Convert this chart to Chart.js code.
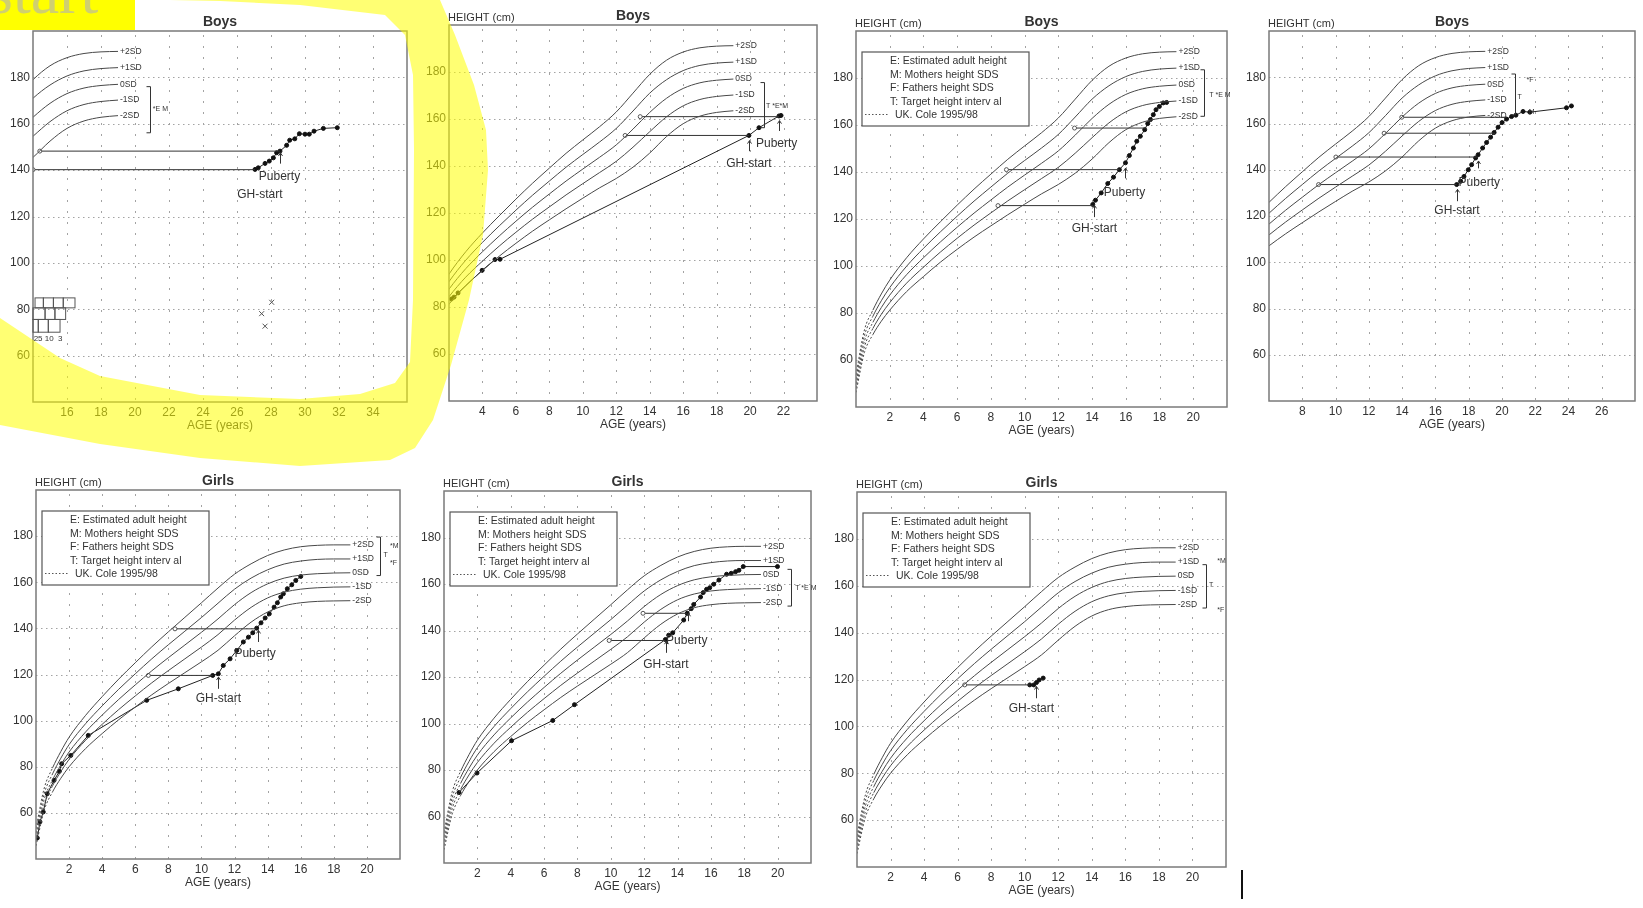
<!DOCTYPE html>
<html>
<head>
<meta charset="utf-8">
<script src="https://cdn.jsdelivr.net/npm/chart.js@4.4.0/dist/chart.umd.min.js"></script>
<style>
  html, body { margin: 0; padding: 0; background: #fff; width: 1643px; height: 908px; overflow: hidden; }
  body { position: relative; }
  canvas { position: absolute; }
  #hilite { position: absolute; left: 0; top: 0; width: 1643px; height: 908px; pointer-events: none; }
  #tag { position: absolute; left: 0; top: 0; width: 135px; height: 30px; background: #ffff00; overflow: hidden; }
  #tag span { position: absolute; left: -12px; top: -45px; font: 64px "Liberation Serif", serif; color: #cfcf70; white-space: nowrap; }
  #cursor { position: absolute; left: 1241px; top: 870px; width: 2px; height: 29px; background: #111; }
</style>
</head>
<body>
<svg id="hilite" viewBox="0 0 1643 908">
  <polygon fill="#ffff00" fill-opacity="0.55" points="170,0 440,0 455,35 474,85 486,130 488,170 483,235 469,300 451,365 433,420 415,448 390,460 300,466 200,458 100,444 0,425 0,318 30,338 60,358 100,376 200,395 300,399 360,394 395,383 410,362 413,300 414,150 413,75 405,35 385,15 300,5 220,1"/>
</svg>
<div id="tag"><span>start</span></div>
<div id="cursor"></div>
<script>
// reference curves (UK, Cole 1995/98)
const refAges = [0, 0.5, 1, 1.5, 2, 3, 4, 5, 6, 7, 8, 9, 10, 11, 12, 13, 14, 15, 16, 17, 18, 19];
const sdNames = ["+2SD", "+1SD", "0SD", "-1SD", "-2SD"];

const boysPlus2 = [53.8, 72.8, 81.2, 88.1, 94.0, 103.5, 111.5, 118.8, 125.9, 132.7, 139.1, 145.4, 151.1, 156.7, 163.0, 171.0, 179.0, 185.0, 188.5, 190.3, 191.0, 191.2];
const boysPlus1 = [51.9, 70.4, 78.6, 85.2, 90.8, 99.9, 107.5, 114.5, 121.2, 127.6, 133.6, 139.5, 144.9, 150.2, 156.0, 163.4, 171.0, 176.7, 180.6, 182.8, 183.8, 184.2];
const boysMean = [50.0, 68.0, 76.0, 82.3, 87.6, 96.3, 103.5, 110.2, 116.5, 122.5, 128.1, 133.6, 138.7, 143.7, 149.0, 155.7, 162.8, 168.8, 173.0, 175.4, 176.5, 177.0];
const boysMinus1 = [48.1, 65.6, 73.4, 79.4, 84.4, 92.7, 99.5, 105.9, 111.8, 117.4, 122.6, 127.7, 132.5, 137.2, 142.0, 148.0, 154.6, 160.9, 165.6, 168.3, 169.6, 170.2];
const boysMinus2 = [46.2, 63.2, 70.8, 76.5, 81.2, 89.1, 95.5, 101.6, 107.1, 112.3, 117.1, 121.8, 126.3, 130.7, 134.7, 139.5, 145.5, 152.5, 158.0, 161.2, 162.8, 163.5];

const girlsPlus2 = [53.3, 70.8, 79.5, 86.6, 92.8, 102.3, 110.4, 118.0, 125.1, 132.0, 138.5, 144.8, 151.1, 157.5, 163.5, 168.0, 171.6, 174.0, 175.4, 176.0, 176.2, 176.2];
const girlsPlus1 = [51.4, 68.4, 76.9, 83.7, 89.6, 98.7, 106.4, 113.6, 120.3, 126.8, 132.9, 138.8, 144.7, 150.9, 157.0, 161.8, 165.4, 167.9, 169.2, 169.9, 170.1, 170.1];
const girlsMean = [49.5, 66.0, 74.3, 80.8, 86.4, 95.1, 102.4, 109.2, 115.5, 121.6, 127.3, 132.8, 138.3, 144.1, 150.3, 155.5, 159.3, 161.8, 163.1, 163.7, 164.0, 164.1];
const girlsMinus1 = [47.6, 63.6, 71.7, 77.9, 83.2, 91.5, 98.4, 104.8, 110.7, 116.4, 121.7, 126.8, 131.9, 137.3, 143.6, 149.1, 153.2, 155.7, 157.0, 157.6, 157.9, 158.0];
const girlsMinus2 = [45.7, 61.2, 69.1, 75.0, 80.0, 87.9, 94.4, 100.4, 105.9, 111.2, 116.1, 120.8, 125.5, 130.5, 136.8, 142.7, 147.1, 149.8, 151.1, 151.7, 151.9, 152.0];

const boysCurves = [boysPlus2, boysPlus1, boysMean, boysMinus1, boysMinus2];
const girlsCurves = [girlsPlus2, girlsPlus1, girlsMean, girlsMinus1, girlsMinus2];

// panel 1 - boys
const p1Growth = [[27.06, 140.3], [27.25, 141.0], [27.65, 142.9], [27.9, 143.9], [28.14, 145.3], [28.33, 147.5], [28.53, 148.2], [28.92, 150.7], [29.1, 152.9], [29.4, 153.5], [29.67, 155.7], [30.0, 155.5], [30.25, 155.5], [30.53, 156.8], [31.08, 158.0], [31.9, 158.3]];
const p1Bone = [[[14.0, 140.2], [27.06, 140.2]], [[14.4, 148.2], [28.53, 148.2]]];
const p1Arrows = [[28.53, 142.8, 147.4]];
const p1Notes = [[28.5, 137.0, "Puberty"], [27.35, 129.5, "GH-start"]];
const p1Bracket = [20.9, 176.0, 156.1];
const p1Small = [[21.05, 166.5, "*E M"]];
const p1Crosses = [[28.04, 83.0], [27.45, 78.1], [27.65, 72.7]];
const p1Boxes = [[84.9, 80.6, [14.12, 14.61, 15.2, 15.78, 16.47]], [80.6, 75.6, [14.0, 14.71, 15.29, 15.92]], [75.6, 70.1, [14.0, 14.31, 14.9, 15.59]]];
const p1BoxLabels = [[14.3, "25"], [14.95, "10"], [15.6, "3"]];

// panel 2 - boys
const p2Growth = [[2.14, 83.4], [2.3, 84.2], [2.54, 86.0], [3.98, 95.6], [4.75, 100.2], [5.05, 100.3], [19.93, 153.0], [20.53, 156.3], [21.73, 161.3], [21.85, 161.5]];
const p2Bone = [[[12.53, 153.0], [19.93, 153.0]], [[13.43, 161.0], [21.73, 161.0]]];
const p2Arrows = [[19.95, 146.3, 150.8], [21.7, 154.9, 159.3]];
const p2Notes = [[19.93, 141.0, "GH-start"], [21.59, 149.5, "Puberty"]];
const p2Bracket = [20.83, 175.5, 156.3];
const p2Small = [[20.95, 165.3, "T *E*M"]];

// panel 3 - boys
const p3Growth = [[14.04, 126.2], [14.2, 128.0], [14.54, 131.1], [14.93, 135.1], [15.27, 137.8], [15.62, 141.0], [15.98, 143.9], [16.21, 147.0], [16.45, 150.2], [16.65, 153.1], [16.86, 155.2], [17.12, 158.0], [17.3, 160.6], [17.46, 162.3], [17.63, 164.4], [17.79, 166.5], [17.99, 167.9], [18.22, 169.4], [18.42, 169.6]];
const p3Bone = [[[8.42, 125.7], [14.08, 125.7]], [[8.92, 141.0], [15.62, 141.0]], [[12.96, 158.7], [17.2, 158.7]]];
const p3Arrows = [[14.14, 120.8, 125.8], [15.98, 137.3, 141.6]];
const p3Notes = [[15.92, 131.4, "Puberty"], [14.14, 115.8, "GH-start"]];
const p3Bracket = [20.65, 183.5, 163.7];
const p3Small = [[20.95, 172.9, "T *E M"]];

// panel 4 - boys
const p4Growth = [[17.28, 133.6], [17.52, 135.0], [17.72, 137.1], [17.98, 140.0], [18.18, 142.2], [18.42, 145.1], [18.57, 146.5], [18.84, 149.4], [19.08, 151.8], [19.32, 154.1], [19.53, 156.1], [19.77, 158.4], [20.01, 160.4], [20.28, 161.9], [20.58, 163.0], [20.84, 163.6], [21.27, 165.2], [21.68, 164.9], [23.88, 166.8], [24.18, 167.6]];
const p4Bone = [[[8.98, 133.6], [17.28, 133.6]], [[10.02, 145.5], [18.57, 145.5]], [[12.92, 155.8], [19.6, 155.8]], [[13.98, 162.7], [20.28, 162.7]]];
const p4Arrows = [[17.28, 126.4, 131.5], [18.57, 140.6, 143.8]];
const p4Notes = [[18.64, 134.5, "Puberty"], [17.3, 122.5, "GH-start"]];
const p4Bracket = [20.78, 181.4, 163.7];
const p4Small = [[21.48, 178.8, "*F"], [20.94, 171.6, "T"], [21.62, 165.0, "M"]];

// panel 5 - girls
const p5Growth = [[0.08, 49.1], [0.24, 56.1], [0.44, 60.4], [0.68, 68.3], [1.09, 74.1], [1.41, 78.0], [1.55, 81.3], [2.1, 84.9], [3.16, 93.6], [6.69, 108.8], [8.6, 113.8], [10.68, 119.6], [11.02, 120.3], [11.32, 123.9], [11.73, 126.8], [12.13, 130.4], [12.53, 134.1], [12.84, 136.2], [13.1, 138.1], [13.34, 140.1], [13.6, 142.4], [13.85, 144.5], [14.1, 146.3], [14.39, 149.2], [14.59, 151.1], [14.79, 153.6], [14.95, 155.0], [15.19, 157.2], [15.46, 158.9], [15.7, 160.8], [16.0, 162.5]];
const p5Bone = [[[6.79, 119.6], [10.68, 119.6]], [[8.4, 139.8], [13.34, 139.8]]];
const p5Arrows = [[11.02, 113.8, 118.9], [13.4, 134.1, 139.1]];
const p5Notes = [[11.02, 109.5, "GH-start"], [13.24, 129.0, "Puberty"]];
const p5Bracket = [20.8, 179.6, 162.9];
const p5Small = [[21.4, 175.7, "*M"], [21.0, 171.6, "T"], [21.4, 168.4, "*F"]];

// panel 6 - girls
const p6Growth = [[0.9, 70.3], [1.98, 78.7], [4.05, 92.6], [6.52, 101.3], [7.82, 108.1], [13.27, 136.1], [13.47, 138.0], [13.71, 139.0], [14.37, 144.5], [14.58, 147.4], [14.82, 149.4], [14.97, 151.2], [15.38, 154.4], [15.54, 156.3], [15.74, 157.7], [15.93, 158.4], [16.17, 159.9], [16.48, 161.7], [16.94, 164.2], [17.22, 164.6], [17.48, 165.3], [17.68, 165.9], [17.94, 167.5], [19.99, 167.5]];
const p6Bone = [[[9.9, 135.7], [13.27, 135.7]], [[11.93, 147.4], [14.58, 147.4]]];
const p6Arrows = [[13.3, 130.4, 135.4], [14.6, 144.0, 147.4]];
const p6Notes = [[13.3, 125.4, "GH-start"], [14.55, 135.7, "Puberty"]];
const p6Bracket = [20.83, 166.3, 150.5];
const p6Small = [[21.05, 158.4, "T *E M"]];

// panel 7 - girls
const p7Growth = [[10.3, 117.7], [10.54, 117.7], [10.7, 118.7], [10.86, 119.8], [11.1, 120.6]];
const p7Bone = [[[6.42, 117.7], [10.3, 117.7]]];
const p7Arrows = [[10.7, 112.0, 117.0]];
const p7Notes = [[10.4, 107.4, "GH-start"]];
const p7Bracket = [20.78, 169.0, 150.5];
const p7Small = [[21.48, 170.5, "*M"], [20.98, 160.5, "T"], [21.48, 149.8, "*F"]];

const legendLines = ["E: Estimated adult height", "M: Mothers height SDS", "F: Fathers height SDS", "T: Target height interv al"];
const legendRef = "UK. Cole 1995/98";

// plot boxes (left, top, right, bottom) in page pixels
const panels = [
  { box: [33, 31, 407, 402], xMin: 14, xMax: 36, title: "Boys", curves: boysCurves, growth: p1Growth, bone: p1Bone, arrows: p1Arrows, notes: p1Notes, bracket: p1Bracket, small: p1Small, legend: false, crosses: p1Crosses, boxes: p1Boxes },
  { box: [449, 25, 817, 401], xMin: 2, xMax: 24, title: "Boys", curves: boysCurves, growth: p2Growth, bone: p2Bone, arrows: p2Arrows, notes: p2Notes, bracket: p2Bracket, small: p2Small, legend: false },
  { box: [856, 31, 1227, 407], xMin: 0, xMax: 22, title: "Boys", curves: boysCurves, growth: p3Growth, bone: p3Bone, arrows: p3Arrows, notes: p3Notes, bracket: p3Bracket, small: p3Small, legend: true },
  { box: [1269, 31, 1635, 401], xMin: 6, xMax: 28, title: "Boys", curves: boysCurves, growth: p4Growth, bone: p4Bone, arrows: p4Arrows, notes: p4Notes, bracket: p4Bracket, small: p4Small, legend: false },
  { box: [36, 490, 400, 859], xMin: 0, xMax: 22, title: "Girls", curves: girlsCurves, growth: p5Growth, bone: p5Bone, arrows: p5Arrows, notes: p5Notes, bracket: p5Bracket, small: p5Small, legend: true },
  { box: [444, 491, 811, 863], xMin: 0, xMax: 22, title: "Girls", curves: girlsCurves, growth: p6Growth, bone: p6Bone, arrows: p6Arrows, notes: p6Notes, bracket: p6Bracket, small: p6Small, legend: true },
  { box: [857, 492, 1226, 867], xMin: 0, xMax: 22, title: "Girls", curves: girlsCurves, growth: p7Growth, bone: p7Bone, arrows: p7Arrows, notes: p7Notes, bracket: p7Bracket, small: p7Small, legend: true }
];

Chart.defaults.font.family = '"Liberation Sans", Arial, sans-serif';
Chart.defaults.color = "#333";

const PAD_L = 45, PAD_T = 32, PAD_R = 8, PAD_B = 40;
const FONT = '"Liberation Sans", Arial, sans-serif';
const toPts = arr => arr.map(p => ({ x: p[0], y: p[1] }));

function makePlugin(p) {
  return {
    id: "panel",
    beforeDatasetsDraw(chart) {
      const { ctx, chartArea: a, scales: { x, y } } = chart;
      ctx.save();
      ctx.strokeStyle = "#a3a3a3";
      ctx.lineWidth = 1;
      ctx.setLineDash([1.5, 3.5]);
      for (let v = 60; v <= 180; v += 20) {
        const py = Math.round(y.getPixelForValue(v)) + 0.5;
        ctx.beginPath(); ctx.moveTo(a.left, py); ctx.lineTo(a.right, py); ctx.stroke();
      }
      ctx.setLineDash([2, 9]);
      for (let v = p.xMin + 2; v < p.xMax; v += 2) {
        const px = Math.round(x.getPixelForValue(v)) + 0.5;
        ctx.beginPath(); ctx.moveTo(px, a.top + 4); ctx.lineTo(px, a.bottom); ctx.stroke();
      }
      ctx.setLineDash([]);
      // legend box sits over the grid
      if (p.legend) {
        ctx.fillStyle = "#fff";
        ctx.fillRect(a.left + 6, a.top + 21, 167, 74);
      }
      ctx.restore();
    },
    afterDraw(chart) {
      const { ctx, chartArea: a, scales: { x, y } } = chart;
      const X = v => x.getPixelForValue(v), Y = v => y.getPixelForValue(v);
      ctx.save();
      // frame
      ctx.strokeStyle = "#7a7a7a";
      ctx.lineWidth = 1.5;
      ctx.strokeRect(a.left, a.top, a.right - a.left, a.bottom - a.top);

      ctx.fillStyle = "#333";
      ctx.textBaseline = "alphabetic";
      ctx.font = "bold 14px " + FONT;
      ctx.textAlign = "center";
      ctx.fillText(p.title, (a.left + a.right) / 2, a.top - 5);
      ctx.font = "11px " + FONT;
      ctx.textAlign = "left";
      ctx.fillText("HEIGHT (cm)", a.left - 1, a.top - 4);
      ctx.font = "12px " + FONT;
      ctx.textAlign = "center";
      ctx.textBaseline = "middle";
      ctx.fillText("AGE (years)", (a.left + a.right) / 2, a.bottom + 24);

      // SD labels at the end of the curves
      ctx.font = "8.5px " + FONT;
      ctx.textAlign = "left";
      p.curves.forEach((c, i) => ctx.fillText(sdNames[i], X(19.12), Y(c[c.length - 1])));

      // notes
      ctx.font = "12px " + FONT;
      ctx.textAlign = "center";
      p.notes.forEach(n => ctx.fillText(n[2], X(n[0]), Y(n[1])));

      // arrows
      ctx.strokeStyle = "#333";
      ctx.lineWidth = 1;
      p.arrows.forEach(ar => {
        const px = Math.round(X(ar[0])) + 0.5, y1 = Y(ar[1]), y2 = Y(ar[2]);
        ctx.beginPath(); ctx.moveTo(px, y1); ctx.lineTo(px, y2);
        ctx.moveTo(px - 2, y2 + 3); ctx.lineTo(px, y2); ctx.lineTo(px + 2, y2 + 3);
        ctx.stroke();
      });

      // target height bracket
      const [bx, bt, bb] = p.bracket;
      const pbx = Math.round(X(bx)) + 0.5;
      ctx.beginPath();
      ctx.moveTo(pbx - 4, Y(bt)); ctx.lineTo(pbx, Y(bt)); ctx.lineTo(pbx, Y(bb)); ctx.lineTo(pbx - 4, Y(bb));
      ctx.stroke();
      ctx.font = "7px " + FONT;
      ctx.textAlign = "left";
      p.small.forEach(s => ctx.fillText(s[2], X(s[0]), Y(s[1])));

      // legend box
      if (p.legend) {
        const lx = a.left + 6, ly = a.top + 21;
        ctx.strokeStyle = "#555";
        ctx.lineWidth = 1.2;
        ctx.strokeRect(lx, ly, 167, 74);
        ctx.font = "10.5px " + FONT;
        ctx.textBaseline = "alphabetic";
        legendLines.forEach((t, i) => ctx.fillText(t, a.left + 34, ly + 12 + i * 13.5));
        ctx.fillText(legendRef, a.left + 39, ly + 66);
        ctx.setLineDash([1.5, 2]);
        ctx.lineWidth = 1;
        ctx.beginPath(); ctx.moveTo(lx + 3, ly + 62.5); ctx.lineTo(lx + 26, ly + 62.5); ctx.stroke();
        ctx.setLineDash([]);
      }

      // percentile boxes (panel 1)
      if (p.boxes) {
        ctx.strokeStyle = "#555";
        ctx.lineWidth = 1;
        p.boxes.forEach(r => {
          for (let i = 0; i < r[2].length - 1; i++) {
            ctx.strokeRect(X(r[2][i]), Y(r[0]), X(r[2][i + 1]) - X(r[2][i]), Y(r[1]) - Y(r[0]));
          }
        });
        ctx.font = "8px " + FONT;
        ctx.textAlign = "center";
        ctx.textBaseline = "middle";
        p1BoxLabels.forEach(l => ctx.fillText(l[1], X(l[0]), Y(67.2)));
      }
      ctx.restore();
    }
  };
}

function makePanel(p) {
  const [L, T, R, B] = p.box;
  const x0 = L - PAD_L, y0 = T - PAD_T;
  const w = R + PAD_R - x0, h = B + PAD_B - y0;
  const cv = document.createElement("canvas");
  cv.width = w; cv.height = h;
  cv.style.left = x0 + "px"; cv.style.top = y0 + "px";
  cv.style.width = w + "px"; cv.style.height = h + "px";
  document.body.insertBefore(cv, document.getElementById("hilite"));

  const datasets = [];
  p.curves.forEach(c => datasets.push({
    data: refAges.map((a, i) => ({ x: a, y: c[i] })),
    showLine: true, borderColor: "#484848", borderWidth: 1, pointRadius: 0,
    cubicInterpolationMode: "monotone",
    segment: { borderDash: s => (s.p1.parsed.x <= 1 ? [2, 2] : undefined) }
  }));
  p.bone.forEach(b => datasets.push({
    data: toPts(b), showLine: true, borderColor: "#333", borderWidth: 1,
    pointRadius: [2, 0], pointBackgroundColor: "#fff", pointBorderColor: "#555", pointBorderWidth: 1
  }));
  datasets.push({
    data: toPts(p.growth), showLine: true, borderColor: "#222", borderWidth: 1,
    pointRadius: 2, pointBackgroundColor: "#111", pointBorderColor: "#111"
  });
  if (p.crosses) {
    datasets.push({
      data: toPts(p.crosses), showLine: false, pointStyle: "crossRot", pointRadius: 3.5,
      borderColor: "#555", pointBorderColor: "#555", borderWidth: 1
    });
  }

  new Chart(cv, {
    type: "scatter",
    data: { datasets },
    options: {
      responsive: false,
      animation: false,
      devicePixelRatio: 1,
      layout: { padding: { left: 0, top: PAD_T, right: PAD_R, bottom: 0 } },
      plugins: { legend: { display: false }, tooltip: { enabled: false } },
      scales: {
        x: {
          type: "linear", min: p.xMin, max: p.xMax,
          afterFit: s => { s.height = PAD_B; },
          grid: { display: false, drawTicks: false },
          border: { display: false },
          ticks: {
            stepSize: 2, padding: 3, maxRotation: 0, autoSkip: false, color: "#333",
            font: { size: 12 },
            callback: v => (v <= p.xMin || v >= p.xMax ? "" : v)
          }
        },
        y: {
          type: "linear", min: 40, max: 200,
          afterFit: s => { s.width = PAD_L; },
          grid: { display: false, drawTicks: false },
          border: { display: false },
          ticks: {
            stepSize: 20, padding: 3, color: "#333", font: { size: 12 },
            callback: v => (v <= 40 || v >= 200 ? "" : v)
          }
        }
      }
    },
    plugins: [makePlugin(p)]
  });
}

panels.forEach(makePanel);
</script>
</body>
</html>
